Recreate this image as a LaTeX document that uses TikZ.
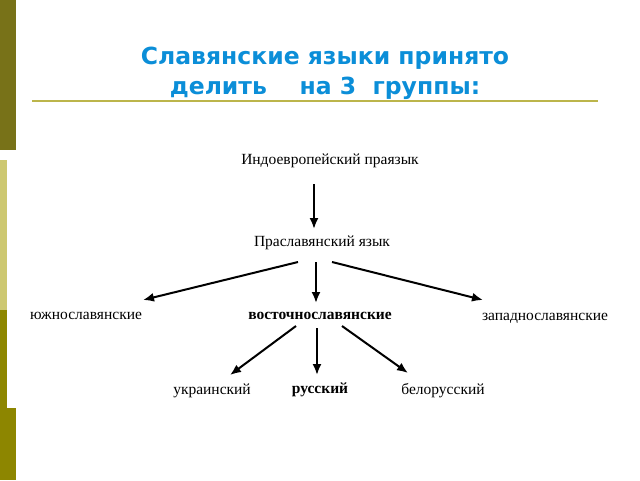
\documentclass[tikz,border=0pt]{standalone}
\usepackage{fontspec}
\usetikzlibrary{arrows.meta}
\setmainfont{Liberation Serif}
\newfontfamily\titlefont{DejaVu Sans}
\begin{document}
\begin{tikzpicture}[x=1pt,y=-1pt,
  lbl/.style={font=\fontsize{15.5}{18}\selectfont, inner sep=1pt},
  blbl/.style={font=\bfseries\fontsize{15.5}{18}\selectfont, inner sep=1pt},
  arr/.style={-{Latex[length=11pt,width=9pt]}, line width=2pt}]
\useasboundingbox (0,0) rectangle (640,480);
\fill[white] (0,0) rectangle (640,480);
\fill[olive!80!black] (0,0) rectangle (16,150);
\fill[olive!45!white] (0,160) rectangle (16,310);
\fill[olive] (0,310) rectangle (16,480);
\fill[white] (7,150) rectangle (16,408);
\node[font=\titlefont\bfseries\fontsize{23.5}{30}\selectfont, text=cyan!75!blue, align=center] (title) at (325,73) {Славянские языки принято\\делить \ \ \ на 3 \ группы:};
\draw[olive!60!white, line width=1.2pt] (32,101) -- (598,101);
\node[lbl] (ie) at (330,161) {Индоевропейский праязык};
\node[lbl] (ps) at (322,243) {Праславянский язык};
\node[lbl] (s) at (86,316) {южнославянские};
\node[blbl] (e) at (320,316) {восточнославянские};
\node[lbl] (w) at (545,318) {западнославянские};
\node[lbl] (u) at (212,391) {украинский};
\node[blbl] (r) at (320,390) {русский};
\node[lbl] (b) at (443,391) {белорусский};
\draw[arr] (314,184) -- (314,229);
\draw[arr] (298,262) -- (143,300);
\draw[arr] (316,262) -- (316,303);
\draw[arr] (332,262) -- (483,300);
\draw[arr] (296,326) -- (230,375);
\draw[arr] (317,328) -- (317,375);
\draw[arr] (342,326) -- (408,373);
\end{tikzpicture}
\end{document}
